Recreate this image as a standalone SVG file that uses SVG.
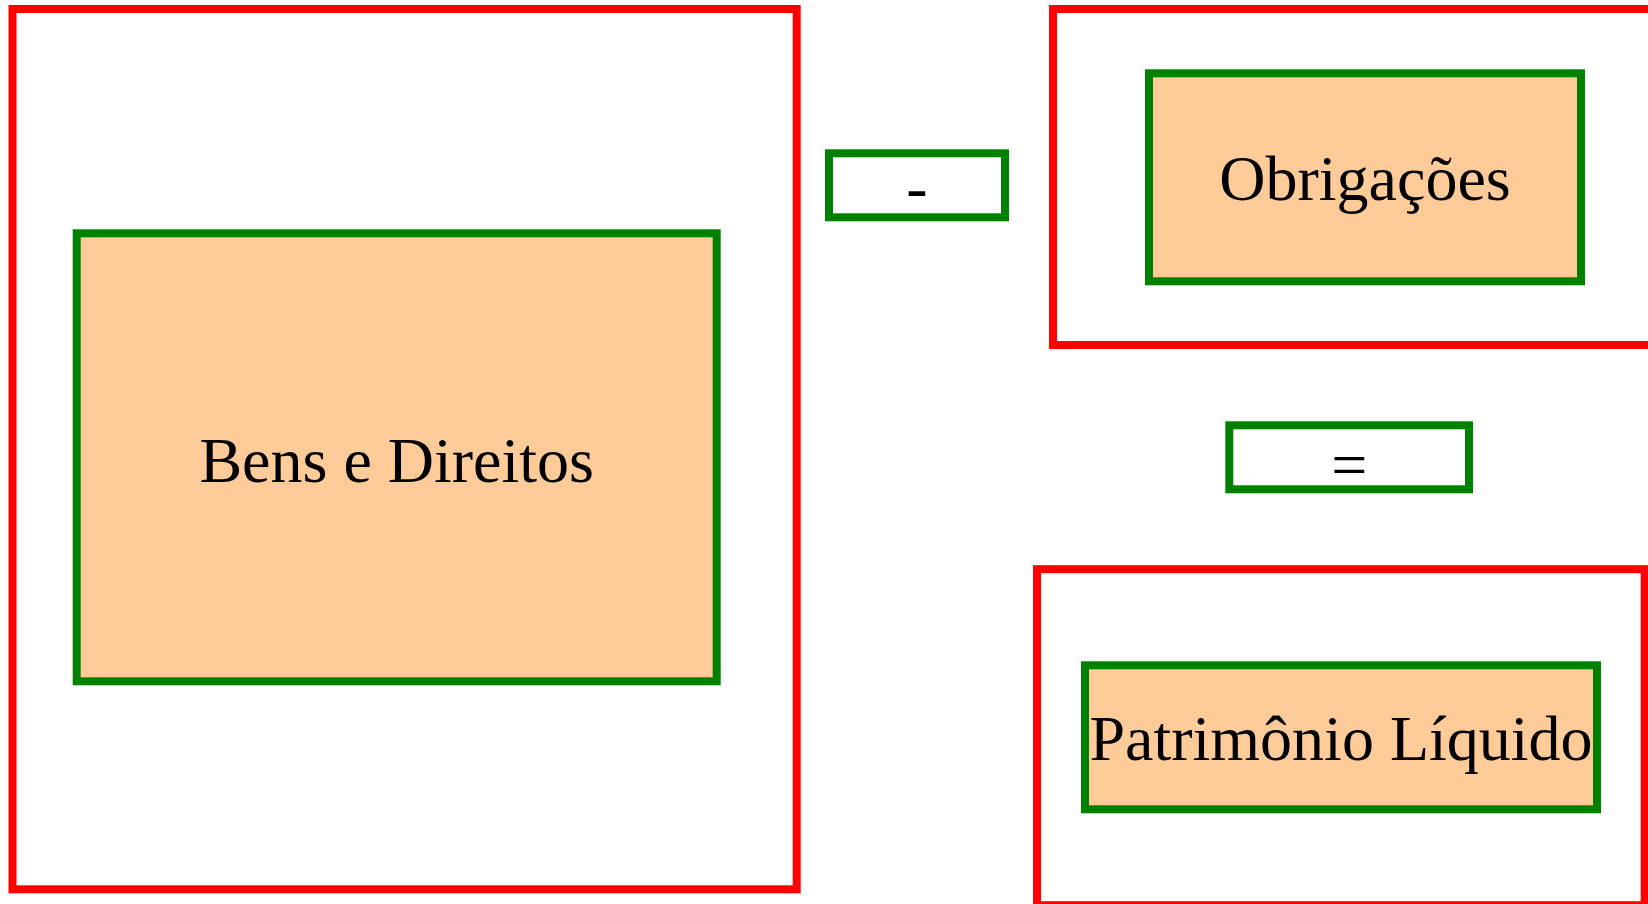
<svg xmlns="http://www.w3.org/2000/svg" width="1648" height="904" viewBox="0 0 1648 904">
  <style>
    .outer { fill: none; stroke: #ff0000; stroke-width: 8; }
    .inner { fill: #ffcc99; stroke: #008000; stroke-width: 8; }
    .op { fill: #ffffff; stroke: #008000; stroke-width: 8; }
    .lbl { font-family: "Liberation Serif", "Times New Roman", serif; font-size: 64px; fill: #000000; text-anchor: middle; }
  </style>
  <rect x="0" y="0" width="1648" height="904" fill="#ffffff"/>
  <g id="ativo">
    <rect class="outer" x="12.5" y="9" width="784.2" height="880.3"/>
    <g id="bens-direitos">
      <rect class="inner" x="76.7" y="233.3" width="640" height="448"/>
      <text class="lbl" x="396.7" y="482">Bens e Direitos</text>
    </g>
  </g>
  <g id="menos">
    <rect class="op" x="829" y="153.3" width="176" height="64"/>
    <text class="lbl" x="917" y="209">-</text>
  </g>
  <g id="passivo">
    <rect class="outer" x="1053" y="9" width="640" height="336"/>
    <g id="obrigacoes">
      <rect class="inner" x="1149" y="73.3" width="432" height="208"/>
      <text class="lbl" x="1365" y="200">Obrigações</text>
    </g>
  </g>
  <g id="igual">
    <rect class="op" x="1229.3" y="425.3" width="239.7" height="64"/>
    <text class="lbl" x="1349.2" y="486">=</text>
  </g>
  <g id="pl">
    <rect class="outer" x="1037" y="569.2" width="607.7" height="336"/>
    <g id="patrimonio-liquido">
      <rect class="inner" x="1085" y="665.3" width="512" height="144"/>
      <text class="lbl" x="1341" y="760">Patrimônio Líquido</text>
    </g>
  </g>
  <g id="connectors"/>
</svg>
